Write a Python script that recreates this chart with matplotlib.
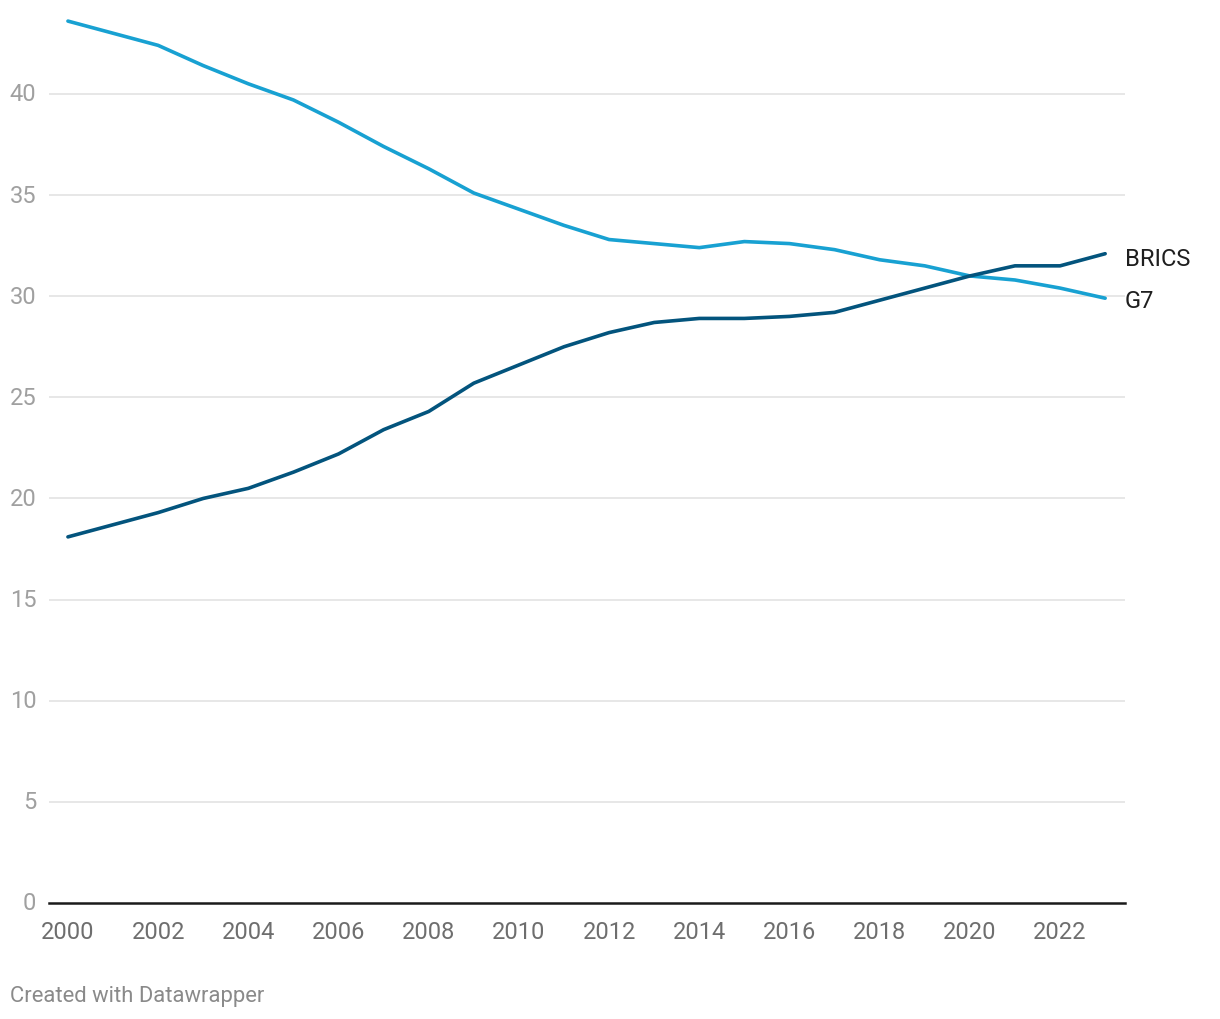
import numpy as np
import matplotlib.pyplot as plt

plt.rcParams['font.family'] = ['Roboto', 'DejaVu Sans']

# data
years = list(range(2000, 2024))
g7 = [43.6, 43.0, 42.4, 41.4, 40.5, 39.7, 38.6, 37.4, 36.3, 35.1, 34.3, 33.5,
      32.8, 32.6, 32.4, 32.7, 32.6, 32.3, 31.8, 31.5, 31.0, 30.8, 30.4, 29.9]
brics = [18.1, 18.7, 19.3, 20.0, 20.5, 21.3, 22.2, 23.4, 24.3, 25.7, 26.6, 27.5,
         28.2, 28.7, 28.9, 28.9, 29.0, 29.2, 29.8, 30.4, 31.0, 31.5, 31.5, 32.1]
y_ticks = [0, 5, 10, 15, 20, 25, 30, 35, 40]
x_ticks = list(range(2000, 2023, 2))

fig = plt.figure(figsize=(12.2, 10.2), dpi=100)
ax = fig.add_axes([49 / 1220, 1 - 904 / 1020, (1125 - 49) / 1220, (904 - 14) / 1020])

ax.plot(years, g7, color='#18a1d2', lw=2.6, solid_capstyle='round', zorder=3)
ax.plot(years, brics, color='#03547d', lw=2.6, solid_capstyle='round', zorder=4)

ax.set_xlim(1999.58, 2023.44)
ax.set_ylim(0, 44)

for s in ['top', 'right', 'left']:
    ax.spines[s].set_visible(False)
ax.spines['bottom'].set_color('#1a1a1a')
ax.spines['bottom'].set_linewidth(1.8)
ax.spines['bottom'].set_zorder(5)

ax.set_yticks(y_ticks)
ax.set_yticklabels([str(v) for v in y_ticks])
ax.set_xticks(x_ticks)
ax.set_xticklabels([str(v) for v in x_ticks])
ax.tick_params(axis='y', length=0, pad=9, labelsize=17, labelcolor='#a0a0a0')
ax.tick_params(axis='x', length=0, pad=12, labelsize=17, labelcolor='#6e6e6e')
for lbl in ax.get_yticklabels():
    lbl.set_verticalalignment('center')

for v in y_ticks[1:]:
    ax.axhline(v, color='#e3e3e3', lw=1.2, zorder=1)

# end labels
ax.annotate('BRICS', (years[-1], brics[-1]), xytext=(14, -3.5), textcoords='offset points',
            fontsize=17, color='#1f1f1f', va='center', ha='left')
ax.annotate('G7', (years[-1], g7[-1]), xytext=(14, -2), textcoords='offset points',
            fontsize=17, color='#1f1f1f', va='center', ha='left')

fig.text(10 / 1220, 1 - 997 / 1020, 'Created with Datawrapper', fontsize=15.8,
         color='#8a8a8a', va='center', ha='left')

fig.savefig('out.png', dpi=100, facecolor='white')
